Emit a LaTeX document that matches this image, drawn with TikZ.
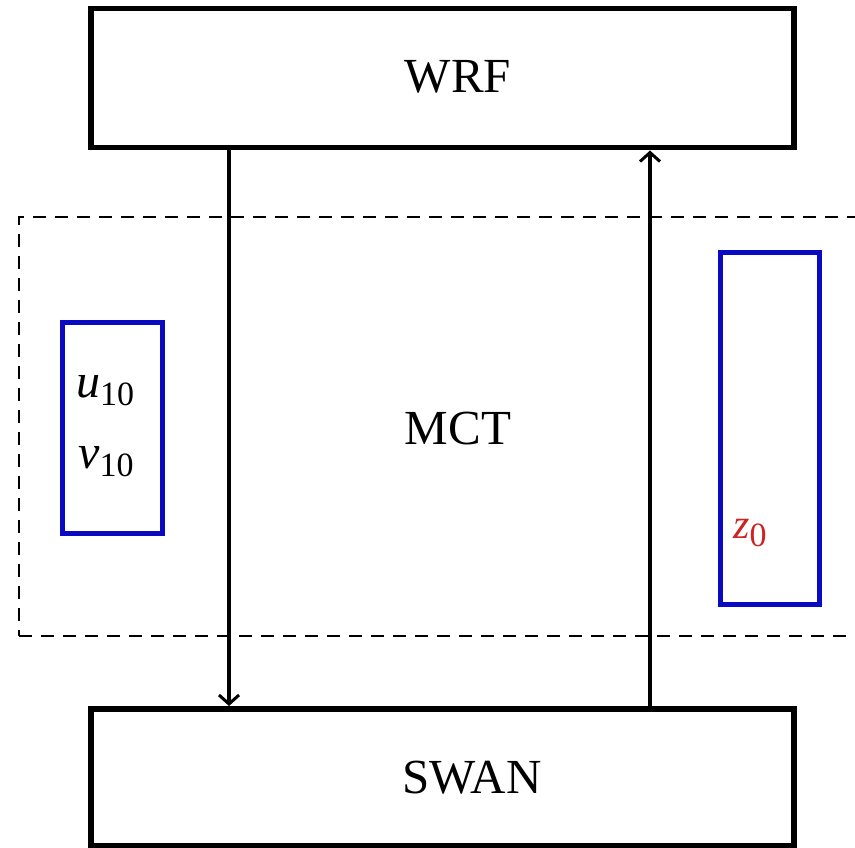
\documentclass[tikz,border=0pt]{standalone}
\usepackage{fontspec}
\setmainfont{Liberation Serif}
\usetikzlibrary{arrows.meta}
\definecolor{boxblue}{RGB}{10,10,195}
\definecolor{zred}{RGB}{205,35,35}
\tikzset{
  modelbox/.style={draw=black,line width=5.5pt,rectangle,inner sep=0pt},
  varbox/.style={draw=boxblue,line width=4.5pt,rectangle,inner sep=0pt},
  bigtxt/.style={font=\fontsize{49}{49}\selectfont,inner sep=0pt,anchor=base},
  vartxt/.style={font=\fontsize{48}{48}\selectfont,inner sep=0pt,anchor=base west},
  flow/.style={line width=3.5pt,-{Straight Barb[length=9pt,width=20pt,line width=3pt]}},
  mctzone/.style={draw=black,line width=1.7pt,dash pattern=on 13pt off 9pt}
}
\newcommand{\subx}[1]{\raisebox{-8pt}{\fontsize{34}{34}\selectfont #1}}
\begin{document}
\begin{tikzpicture}[x=1pt,y=-1pt]
\useasboundingbox (0,0) rectangle (855,848);
\clip (0,0) rectangle (855,848);
% dashed MCT zone
\node[mctzone,minimum width=860pt,minimum height=419pt,anchor=north west] (zone) at (18,216) {};
% model boxes
\node[modelbox,minimum width=703pt,minimum height=139pt,anchor=north west] (wrf) at (88,6) {};
\node[modelbox,minimum width=703pt,minimum height=137pt,anchor=north west] (swan) at (88,706) {};
\node[bigtxt] (wrft) at (458,93) {WRF};
\node[bigtxt] (swant) at (472,793) {SWAN};
\node[bigtxt] (mctt) at (458,444) {MCT};
% variable boxes
\node[varbox,minimum width=100pt,minimum height=211pt,anchor=north west] (lbox) at (60,320) {};
\node[varbox,minimum width=99pt,minimum height=352pt,anchor=north west] (rbox) at (718,250) {};
\node[vartxt] (u10) at (76,397) {\textit{u}\subx{10}};
\node[vartxt] (v10) at (78,468) {\textit{v}\subx{10}};
\node[vartxt,text=zred,font=\fontsize{42}{42}\selectfont] (z0) at (733,538) {\textit{z}\subx{0}};
% connectors
\coordinate (a1) at (229,145);
\coordinate (a2) at (229,706);
\coordinate (b1) at (650,706);
\coordinate (b2) at (650,145);
\draw[flow] (wrf.south -| a1) -- (swan.north -| a2);
\draw[flow] (swan.north -| b1) -- (wrf.south -| b2);
\end{tikzpicture}
\end{document}
